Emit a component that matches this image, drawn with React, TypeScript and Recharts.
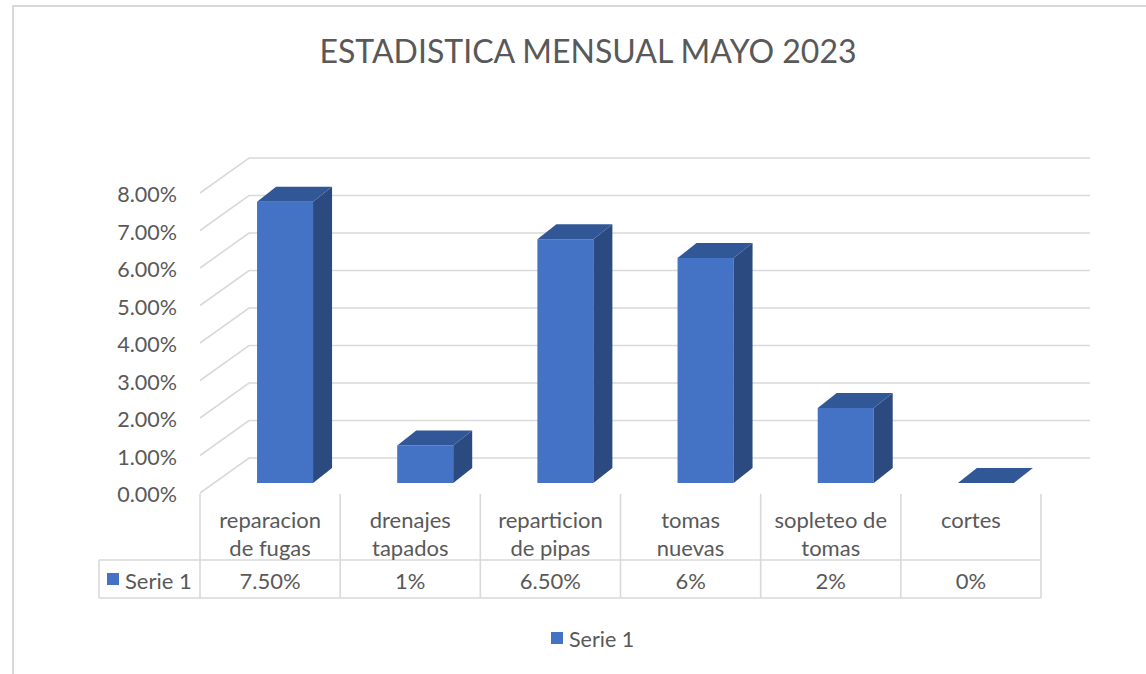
import React from 'react';
import { BarChart, Bar, XAxis, YAxis, CartesianGrid } from 'recharts';

const categories = [
  'reparacion de fugas',
  'drenajes tapados',
  'reparticion de pipas',
  'tomas nuevas',
  'sopleteo de tomas',
  'cortes',
];
const serie1 = [0.075, 0.01, 0.065, 0.06, 0.02, 0];
const serie1Labels = ['7.50%', '1%', '6.50%', '6%', '2%', '0%'];
const seriesName = 'Serie 1';
const yTicks = [0, 0.01, 0.02, 0.03, 0.04, 0.05, 0.06, 0.07, 0.08];
const title = 'ESTADISTICA MENSUAL MAYO 2023';

const data = categories.map((name, i) => ({ name, value: serie1[i], label: serie1Labels[i] }));

const W = 1146;
const H = 674;
const PLOT_LEFT = 200;
const PLOT_RIGHT = 1041;
const PLOT_TOP = 193;
const PLOT_BOTTOM = 493;
const COL_W = (PLOT_RIGHT - PLOT_LEFT) / categories.length;

// oblique "3d" offsets
const WALL_DX = 49;
const WALL_DY = 35;
const BAR_DX = 15;
const BAR_DY = 10;
const BAR_DEPTH_X = 19;
const BAR_DEPTH_Y = 15;

const FRONT = '#4472C4';
const TOP = '#325797';
const SIDE = '#2B4A80';
const GRID = '#d9d9d9';
const TEXT = '#595959';
const FONT = 'Lato, sans-serif';
const FS = 21.5;
const FS_TABLE = 22;

// greedy wrap of category names
const wrapLabel = (s: string, max: number) => {
  const lines: string[] = [];
  let cur = '';
  s.split(' ').forEach((w) => {
    if (!cur) cur = w;
    else if ((cur + ' ' + w).length <= max) cur += ' ' + w;
    else {
      lines.push(cur);
      cur = w;
    }
  });
  if (cur) lines.push(cur);
  return lines;
};

const gridLine = (props: any) => {
  const { x1, y1, x2, index } = props;
  const pts = `${x1},${y1} ${x1 + WALL_DX},${y1 - WALL_DY} ${x2 + WALL_DX},${y1 - WALL_DY}`;
  return <polyline key={`grid-${index}-${y1}`} points={pts} fill="none" stroke={GRID} strokeWidth={1.6} />;
};

const Bar3D = (props: any) => {
  const { x, y, width, height } = props;
  const h = Math.max(height || 0, 0);
  const fx = x + BAR_DX;
  const fy = y - BAR_DY;
  const top = `${fx},${fy} ${fx + BAR_DEPTH_X},${fy - BAR_DEPTH_Y} ${fx + width + BAR_DEPTH_X},${fy - BAR_DEPTH_Y} ${fx + width},${fy}`;
  const side = `${fx + width},${fy} ${fx + width + BAR_DEPTH_X},${fy - BAR_DEPTH_Y} ${fx + width + BAR_DEPTH_X},${fy - BAR_DEPTH_Y + h} ${fx + width},${fy + h}`;
  return (
    <g>
      {h > 0 && <rect x={fx} y={fy} width={width} height={h} fill={FRONT} />}
      {h > 0 && <polygon points={side} fill={SIDE} />}
      <polygon points={top} fill={TOP} />
    </g>
  );
};

const YTick = (props: any) => {
  const { y, payload } = props;
  return (
    <text x={177} y={y + 1} textAnchor="end" dominantBaseline="central" fill={TEXT} fontSize={FS} fontFamily={FONT}>
      {(payload.value * 100).toFixed(2) + '%'}
    </text>
  );
};

const CategoryTick = (props: any) => {
  const { x, payload } = props;
  const index = props.index ?? payload.index ?? 0;
  const lines = wrapLabel(payload.value, 11);
  const left = x - COL_W / 2;
  const right = x + COL_W / 2;
  const rowTop = 560;
  const rowBottom = 598;
  return (
    <g>
      <line x1={right} y1={PLOT_BOTTOM + 1} x2={right} y2={rowBottom} stroke={GRID} strokeWidth={1.6} />
      <line x1={left} y1={rowTop} x2={right} y2={rowTop} stroke={GRID} strokeWidth={1.6} />
      <line x1={left} y1={rowBottom} x2={right} y2={rowBottom} stroke={GRID} strokeWidth={1.6} />
      {index === 0 && (
        <g>
          <line x1={left} y1={PLOT_BOTTOM + 1} x2={left} y2={rowBottom} stroke={GRID} strokeWidth={1.6} />
          <line x1={99} y1={rowTop} x2={left} y2={rowTop} stroke={GRID} strokeWidth={1.6} />
          <line x1={99} y1={rowBottom} x2={left} y2={rowBottom} stroke={GRID} strokeWidth={1.6} />
          <line x1={99} y1={rowTop} x2={99} y2={rowBottom} stroke={GRID} strokeWidth={1.6} />
          <rect x={107} y={573} width={12} height={12} fill={FRONT} />
          <text x={125} y={580} dominantBaseline="central" fill={TEXT} fontSize={FS_TABLE} fontFamily={FONT}>
            {seriesName}
          </text>
        </g>
      )}
      {lines.map((l, i) => (
        <text key={i} x={x} y={519 + i * 28} textAnchor="middle" dominantBaseline="central" fill={TEXT} fontSize={FS_TABLE} fontFamily={FONT}>
          {l}
        </text>
      ))}
      <text x={x} y={580} textAnchor="middle" dominantBaseline="central" fill={TEXT} fontSize={FS_TABLE} fontFamily={FONT}>
        {data[index] ? data[index].label : ''}
      </text>
    </g>
  );
};

export default function App() {
  return (
    <div style={{ position: 'absolute', left: 0, top: 0, width: W, height: H, background: '#fff', overflow: 'hidden' }}>
      <div
        style={{
          position: 'absolute',
          left: 12,
          top: 5,
          width: W,
          height: H,
          borderLeft: `2px solid ${GRID}`,
          borderTop: `2px solid ${GRID}`,
        }}
      />
      <BarChart
        width={W}
        height={H}
        data={data}
        margin={{ top: PLOT_TOP, right: W - PLOT_RIGHT, bottom: 0, left: 0 }}
        barCategoryGap="30%"
      >
        <CartesianGrid vertical={false} horizontal={gridLine} />
        <XAxis
          dataKey="name"
          height={H - PLOT_BOTTOM}
          axisLine={false}
          tickLine={false}
          interval={0}
          tick={<CategoryTick />}
        />
        <YAxis
          width={PLOT_LEFT}
          domain={[0, 0.08]}
          ticks={yTicks}
          axisLine={false}
          tickLine={false}
          tick={<YTick />}
        />
        <Bar dataKey="value" name={seriesName} shape={<Bar3D />} isAnimationActive={false} />
      </BarChart>
      <svg width={W} height={H} style={{ position: 'absolute', left: 0, top: 0, pointerEvents: 'none' }}>
        <text x={588} y={50} textAnchor="middle" dominantBaseline="central" fill={TEXT} fontSize={32} fontFamily={FONT}>
          {title}
        </text>
        <rect x={551} y={632} width={12} height={12} fill={FRONT} />
        <text x={569} y={639} dominantBaseline="central" fill={TEXT} fontSize={FS} fontFamily={FONT}>
          {seriesName}
        </text>
      </svg>
    </div>
  );
}
